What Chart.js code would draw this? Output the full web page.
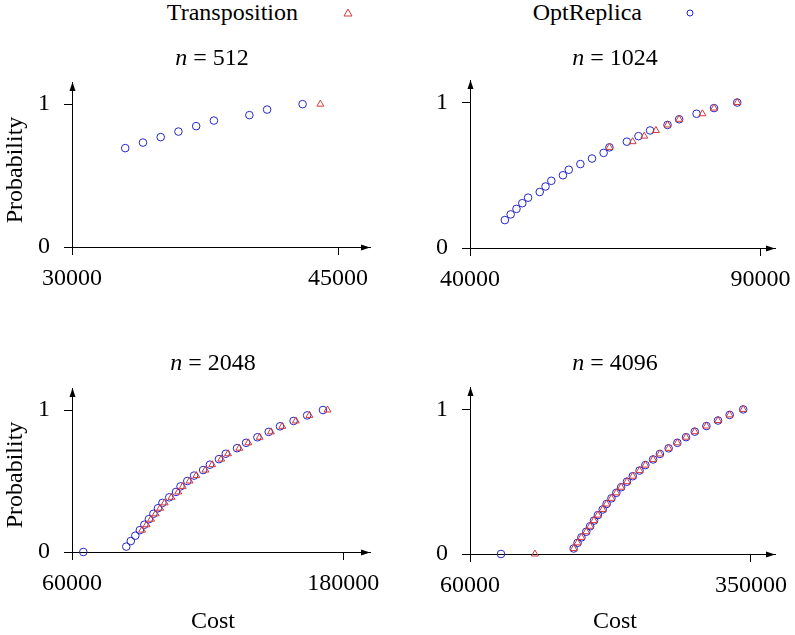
<!DOCTYPE html>
<html>
<head>
<meta charset="utf-8">
<script src="https://cdn.jsdelivr.net/npm/chart.js@4.4.1/dist/chart.umd.min.js"></script>
<style>
    body { margin: 0; background: #fff; overflow: hidden; }
    #page { position: relative; width: 795px; height: 635px; font-family: 'Liberation Serif', 'Times New Roman', serif; font-size: 24px; color: #000; }
    #page canvas { position: absolute; }
    .txt { position: absolute; line-height: 24px; white-space: nowrap; }
    .ctr { width: 200px; text-align: center; }
    .rot { width: 200px; height: 24px; text-align: center; transform: rotate(-90deg); }
    .mark { position: absolute; }
</style>
</head>
<body>
<div id="page">
    <canvas id="c512" width="398" height="260" style="left:0; top:40px"></canvas>
    <canvas id="c1024" width="397" height="260" style="left:398px; top:40px"></canvas>
    <canvas id="c2048" width="398" height="295" style="left:0; top:340px"></canvas>
    <canvas id="c4096" width="397" height="295" style="left:398px; top:340px"></canvas>

    <!-- 凡例 -->
    <div class="txt" style="left:98px; top:0; width:200px; text-align:right">Transposition</div>
    <svg class="mark" width="12" height="12" style="left:342px; top:7px">
        <polygon points="6,2 10,9 2,9" fill="none" stroke="#d23a3a" stroke-width="1"/>
    </svg>
    <div class="txt" style="left:442px; top:0; width:200px; text-align:right">OptReplica</div>
    <svg class="mark" width="12" height="12" style="left:684px; top:7px">
        <circle cx="6" cy="6" r="3" fill="none" stroke="#2525cc" stroke-width="1"/>
    </svg>

    <!-- 各グラフのタイトル -->
    <div class="txt ctr" style="left:112px; top:45px"><i>n</i> = 512</div>
    <div class="txt ctr" style="left:515px; top:45px"><i>n</i> = 1024</div>
    <div class="txt ctr" style="left:113px; top:350px"><i>n</i> = 2048</div>
    <div class="txt ctr" style="left:515px; top:350px"><i>n</i> = 4096</div>

    <!-- 軸ラベル -->
    <div class="txt rot" style="left:-86px; top:158px">Probability</div>
    <div class="txt rot" style="left:-86px; top:463px">Probability</div>
    <div class="txt ctr" style="left:113px; top:608px">Cost</div>
    <div class="txt ctr" style="left:515px; top:608px">Cost</div>
</div>

<script>
const OPT_COLOR = '#2525cc';
const TRANS_COLOR = '#d23a3a';

const probTicks = [0, 1];

// n = 512
const opt512Cost = [33000, 34000, 35000, 36000, 37000, 38000, 40000, 41000, 43000];
const opt512Prob = [0.692, 0.731, 0.769, 0.808, 0.846, 0.885, 0.923, 0.962, 1];
const trans512Cost = [44000];
const trans512Prob = [1];
const cost512Ticks = [30000, 45000];

// n = 1024
const opt1024Cost = [46000, 47000, 48000, 49000, 50000, 52000, 53000, 54000, 56000, 57000, 59000,
    61000, 63000, 64000, 67000, 69000, 71000, 74000, 76000, 79000, 82000, 86000];
const opt1024Prob = [0.192, 0.231, 0.269, 0.308, 0.346, 0.385, 0.423, 0.462, 0.5, 0.538, 0.577,
    0.615, 0.654, 0.692, 0.731, 0.769, 0.808, 0.846, 0.885, 0.923, 0.962, 1];
const trans1024Cost = [64000, 68000, 70000, 72000, 74000, 76000, 80000, 82000, 86000];
const trans1024Prob = [0.692, 0.731, 0.769, 0.808, 0.846, 0.885, 0.923, 0.962, 1];
const cost1024Ticks = [40000, 90000];

// n = 2048
const opt2048Cost = [65000, 84000, 86000, 88000, 90000, 92000, 94000, 96000, 98000, 100000, 103000,
    106000, 108000, 111000, 114000, 118000, 121000, 125000, 128000, 133000, 137000, 142000,
    147000, 152000, 158000, 164000, 171000];
const opt2048Prob = [0, 0.038, 0.077, 0.115, 0.154, 0.192, 0.231, 0.269, 0.308, 0.346, 0.385,
    0.423, 0.462, 0.5, 0.538, 0.577, 0.615, 0.654, 0.692, 0.731, 0.769, 0.808,
    0.846, 0.885, 0.923, 0.962, 1];
const trans2048Cost = [91000, 93000, 95000, 97000, 99000, 101000, 104000, 107000, 109000, 112000,
    115000, 119000, 122000, 126000, 129000, 134000, 138000, 143000, 148000, 153000, 159000,
    165000, 173000];
const trans2048Prob = [0.154, 0.192, 0.231, 0.269, 0.308, 0.346, 0.385, 0.423, 0.462, 0.5,
    0.538, 0.577, 0.615, 0.654, 0.692, 0.731, 0.769, 0.808, 0.846, 0.885, 0.923,
    0.962, 1];
const cost2048Ticks = [60000, 180000];

// n = 4096
const opt4096Cost = [92000, 167000, 171000, 175000, 180000, 184000, 188000, 192000, 197000, 201000,
    206000, 211000, 216000, 222000, 228000, 235000, 241000, 249000, 256000, 265000, 274000,
    283000, 292000, 304000, 316000, 328000, 342000];
const opt4096Prob = [0, 0.038, 0.077, 0.115, 0.154, 0.192, 0.231, 0.269, 0.308, 0.346,
    0.385, 0.423, 0.462, 0.5, 0.538, 0.577, 0.615, 0.654, 0.692, 0.731, 0.769,
    0.808, 0.846, 0.885, 0.923, 0.962, 1];
const trans4096Cost = [127000, 167000, 171000, 175000, 180000, 184000, 188000, 192000, 197000, 201000,
    206000, 211000, 216000, 222000, 228000, 235000, 241000, 249000, 256000, 265000, 274000,
    283000, 292000, 304000, 316000, 328000, 342000];
const trans4096Prob = [0, 0.038, 0.077, 0.115, 0.154, 0.192, 0.231, 0.269, 0.308, 0.346,
    0.385, 0.423, 0.462, 0.5, 0.538, 0.577, 0.615, 0.654, 0.692, 0.731, 0.769,
    0.808, 0.846, 0.885, 0.923, 0.962, 1];
const cost4096Ticks = [60000, 350000];

const tickFont = { family: "'Liberation Serif', 'Times New Roman', serif", size: 24 };

function toPoints(xs, ys) {
    return xs.map((x, i) => ({ x: x, y: ys[i] }));
}

// 1px線と同じ位置に揃える
function align(p) {
    return Math.round(p - 0.5) + 0.5;
}

/**
 * 軸の先端に矢印を描くプラグイン
 */
const axisArrows = {
    id: 'axisArrows',
    afterDraw(chart) {
        const { ctx, chartArea: a } = chart;
        const yLine = align(a.bottom);
        const xLine = align(a.left);
        ctx.save();
        ctx.fillStyle = '#000';
        ctx.beginPath();
        ctx.moveTo(a.right, yLine);
        ctx.lineTo(a.right - 9, yLine - 3);
        ctx.lineTo(a.right - 9, yLine + 3);
        ctx.closePath();
        ctx.fill();
        ctx.beginPath();
        ctx.moveTo(xLine, a.top);
        ctx.lineTo(xLine - 3, a.top + 9);
        ctx.lineTo(xLine + 3, a.top + 9);
        ctx.closePath();
        ctx.fill();
        ctx.restore();
    }
};

function makePanel(id, p) {
    const ctx = document.getElementById(id);
    return new Chart(ctx.getContext('2d'), {
        type: 'scatter',
        data: {
            datasets: [{
                label: 'Transposition',
                data: toPoints(p.transCost, p.transProb),
                pointStyle: 'triangle',
                pointRadius: 4,
                pointBorderWidth: 1,
                pointBorderColor: TRANS_COLOR,
                pointBackgroundColor: 'transparent',
                clip: false
            }, {
                label: 'OptReplica',
                data: toPoints(p.optCost, p.optProb),
                pointStyle: 'circle',
                pointRadius: 3.8,
                pointBorderWidth: 1,
                pointBorderColor: OPT_COLOR,
                pointBackgroundColor: 'transparent',
                clip: false
            }]
        },
        options: {
            responsive: false,
            animation: false,
            events: [],
            layout: { padding: { left: 0, top: p.padTop, right: p.padRight, bottom: 0 } },
            plugins: {
                legend: { display: false },
                tooltip: { enabled: false }
            },
            scales: {
                x: {
                    type: 'linear',
                    min: p.xMin,
                    max: p.xMax,
                    afterBuildTicks: axis => { axis.ticks = p.xTicks.map(v => ({ value: v })); },
                    afterFit: s => { s.height = p.xHeight; s.paddingLeft = 0; s.paddingRight = 0; },
                    grid: { drawOnChartArea: false, drawTicks: true, tickLength: 8, color: '#000', lineWidth: 1 },
                    border: { color: '#000', width: 1 },
                    ticks: {
                        font: tickFont, color: '#000', padding: 9,
                        autoSkip: false, maxRotation: 0,
                        callback: v => String(v)
                    }
                },
                y: {
                    type: 'linear',
                    min: 0,
                    max: 1.155,
                    afterBuildTicks: axis => { axis.ticks = probTicks.map(v => ({ value: v })); },
                    afterFit: s => { s.width = 72; s.paddingTop = 0; s.paddingBottom = 0; },
                    grid: { drawOnChartArea: false, drawTicks: true, tickLength: 8, color: '#000', lineWidth: 1 },
                    border: { color: '#000', width: 1 },
                    ticks: {
                        font: tickFont, color: '#000', padding: 14,
                        autoSkip: false,
                        callback: v => String(v)
                    }
                }
            }
        },
        plugins: [axisArrows]
    });
}

makePanel('c512', {
    optCost: opt512Cost, optProb: opt512Prob, transCost: trans512Cost, transProb: trans512Prob,
    xTicks: cost512Ticks, xMin: 30000, xMax: 46800,
    padTop: 42, padRight: 28, xHeight: 53
});
makePanel('c1024', {
    optCost: opt1024Cost, optProb: opt1024Prob, transCost: trans1024Cost, transProb: trans1024Prob,
    xTicks: cost1024Ticks, xMin: 40000, xMax: 92500,
    padTop: 40, padRight: 20, xHeight: 52
});
makePanel('c2048', {
    optCost: opt2048Cost, optProb: opt2048Prob, transCost: trans2048Cost, transProb: trans2048Prob,
    xTicks: cost2048Ticks, xMin: 60000, xMax: 191800,
    padTop: 48, padRight: 28, xHeight: 83
});
makePanel('c4096', {
    optCost: opt4096Cost, optProb: opt4096Prob, transCost: trans4096Cost, transProb: trans4096Prob,
    xTicks: cost4096Ticks, xMin: 60000, xMax: 374800,
    padTop: 47, padRight: 20, xHeight: 81
});
</script>
</body>
</html>
